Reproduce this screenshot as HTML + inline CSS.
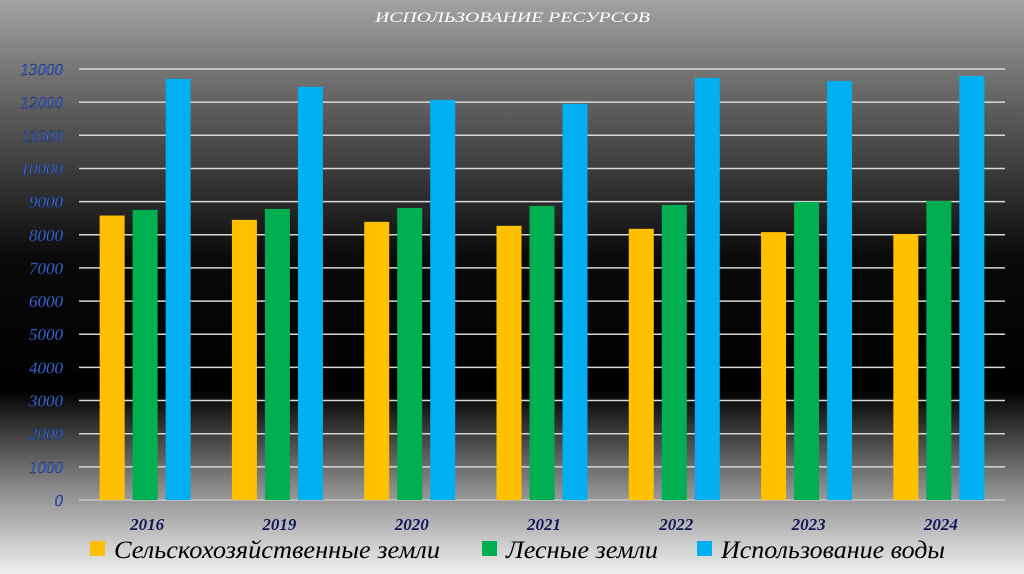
<!DOCTYPE html>
<html><head><meta charset="utf-8"><style>
html,body{margin:0;padding:0;width:1024px;height:574px;overflow:hidden;}
svg{display:block;}
</style></head><body>
<svg id="chart" width="1024" height="574" xmlns="http://www.w3.org/2000/svg">
<defs>
<linearGradient id="bg" x1="0" y1="0" x2="0" y2="1">
<stop offset="0" stop-color="#a2a2a2"/>
<stop offset="0.2" stop-color="#5a5a5a"/>
<stop offset="0.45" stop-color="#0a0a0a"/>
<stop offset="0.68" stop-color="#000"/>
<stop offset="0.85" stop-color="#8a8a8a"/>
<stop offset="1" stop-color="#f0f0f0"/>
</linearGradient>
</defs>
<rect width="1024" height="574" fill="url(#bg)"/>
<text x="375" y="22" textLength="275" lengthAdjust="spacingAndGlyphs" fill="#fff" font-family="Liberation Serif, serif" font-style="italic" font-size="15">ИСПОЛЬЗОВАНИЕ РЕСУРСОВ</text>
<g id="grid"></g><g id="bars"></g><g id="labels"></g>
<g font-family="Liberation Serif, serif" font-style="italic" font-size="25" fill="#000">
<rect x="90" y="541" width="15" height="15" fill="#ffc000"/>
<text x="114" y="558" textLength="326" lengthAdjust="spacingAndGlyphs">Сельскохозяйственные земли</text>
<rect x="482" y="541" width="15" height="15" fill="#00b050"/>
<text x="506" y="558" textLength="152" lengthAdjust="spacingAndGlyphs">Лесные земли</text>
<rect x="697" y="541" width="15" height="15" fill="#00b0f0"/>
<text x="721" y="558" textLength="224" lengthAdjust="spacingAndGlyphs">Использование воды</text>
</g>
</svg>
<script>
const categories = ["2016","2019","2020","2021","2022","2023","2024"];
const agricultural = [8580,8450,8390,8270,8180,8080,8020];
const forest = [8750,8780,8810,8870,8900,8990,9020];
const water = [12700,12460,12070,11950,12730,12640,12790];
const yTicks = [0,1000,2000,3000,4000,5000,6000,7000,8000,9000,10000,11000,12000,13000];

const NS = "http://www.w3.org/2000/svg";
const x0 = 79, x1 = 1005, yBase = 500, yTop = 69, yMax = 13000;
const y = v => yBase - (v / yMax) * (yBase - yTop);
const gw = (x1 - x0) / categories.length;
const cx = i => x0 + gw * (i + 0.5);
function mk(tag, attrs, parent){const e=document.createElementNS(NS,tag);for(const k in attrs)e.setAttribute(k,attrs[k]);parent.appendChild(e);return e;}
const grid=document.getElementById('grid'), bars=document.getElementById('bars'), labels=document.getElementById('labels');
yTicks.forEach(t=>{
  const l=mk('line',{x1:x0,x2:x1,y1:y(t),y2:y(t),stroke:t===0?'#bbb':'#d8d8d8','stroke-width':t===0?2:1.5},grid);
  
  
  const tx=mk('text',{x:63,y:y(t)+6,'text-anchor':'end',fill:'#3c6fe0',stroke:'#1a2a60','stroke-width':0.4,'font-family':'Liberation Serif, serif','font-style':'italic','font-size':17},labels);
  tx.textContent=t;
  
  
});
const series=[[agricultural,'#ffc000','agricultural'],[forest,'#00b050','forest'],[water,'#00b0f0','water']];
categories.forEach((c,i)=>{
  series.forEach(([vals,col,nm],s)=>{
    const bx=cx(i)+(s-1)*33-12.5;
    const r=mk('rect',{x:bx,y:y(vals[i]),width:25,height:yBase-y(vals[i]),fill:col},bars);
    
    
  });
  const t=mk('text',{x:cx(i)+2,y:530,'text-anchor':'middle',fill:'#12185a','font-family':'Liberation Serif, serif','font-style':'italic','font-weight':'bold','font-size':17},labels);
  t.textContent=c;
  
  
});
</script>
</body></html>
